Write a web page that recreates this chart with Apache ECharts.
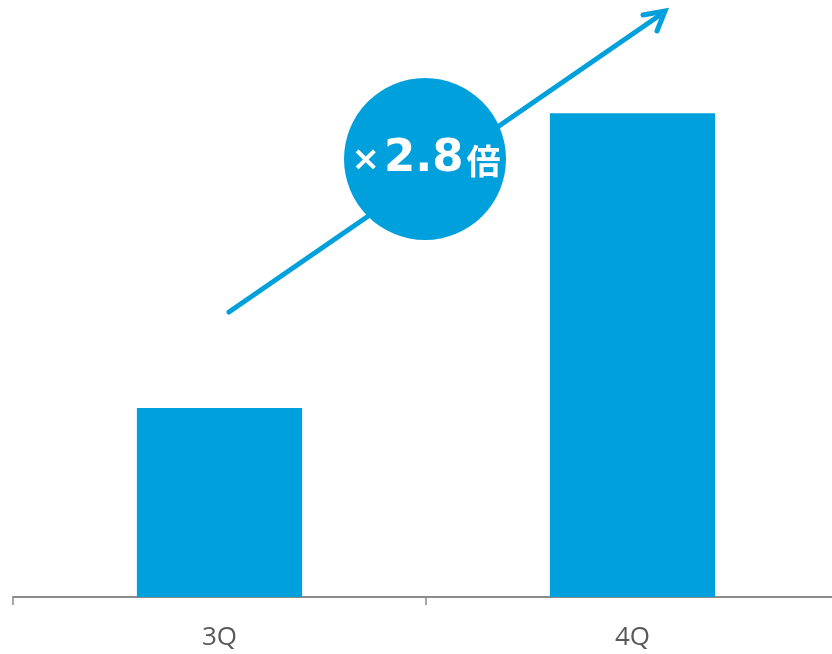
<!DOCTYPE html>
<html>
<head>
<meta charset="utf-8">
<style>
  html, body { margin: 0; padding: 0; background: #ffffff; overflow: hidden; }
  #chart { width: 839px; height: 654px; }
</style>
<script src="https://cdn.jsdelivr.net/npm/echarts@6/dist/echarts.min.js"></script>
</head>
<body>
<div id="chart"></div>
<script>
// Quarterly values (relative units)
const quarters = ['3Q', '4Q'];
const values = [100, 256];
const growthLabel = '2.8';

const BLUE = '#00A0DC';
const chart = echarts.init(document.getElementById('chart'));

chart.setOption({
  animation: false,
  grid: { left: 13, right: 0, top: 0, bottom: 57 },
  xAxis: {
    type: 'category',
    data: quarters,
    axisLine: { lineStyle: { color: '#8c8c8c', width: 2 } },
    axisTick: { show: true, length: 8, lineStyle: { color: '#8c8c8c', width: 1.5 } },
    axisLabel: {
      color: '#595959',
      fontSize: 26,
      fontFamily: 'Open Sans, Noto Sans, sans-serif',
      margin: 28
    }
  },
  yAxis: {
    type: 'value',
    min: 0,
    max: 316,
    show: false,
    splitLine: { show: false }
  },
  series: [{
    type: 'bar',
    data: values,
    barWidth: '40%',
    itemStyle: { color: BLUE }
  }],
  graphic: [
    {
      type: 'polyline',
      shape: { points: [[229, 312], [663, 13]] },
      style: { stroke: BLUE, lineWidth: 5, lineCap: 'round', fill: null },
      z: 10
    },
    {
      type: 'polyline',
      shape: { points: [[643, 15], [665, 11], [657, 31]] },
      style: { stroke: BLUE, lineWidth: 5, lineCap: 'round', lineJoin: 'miter', fill: null },
      z: 10
    },
    {
      type: 'circle',
      shape: { cx: 425, cy: 159, r: 81 },
      style: { fill: BLUE },
      z: 11
    },
    {
      type: 'text',
      x: 426,
      y: 159,
      z: 12,
      style: {
        text: '{x|×}{n|' + growthLabel + '}{k|倍}',
        align: 'center',
        verticalAlign: 'middle',
        rich: {
          x: { fill: '#ffffff', fontSize: 34, fontWeight: 'bold', fontFamily: 'DejaVu Sans, sans-serif', padding: [4, 4, 0, 0] },
          n: { fill: '#ffffff', fontSize: 45, fontWeight: 'bold', fontFamily: 'Verdana, DejaVu Sans, sans-serif' },
          k: { fill: '#ffffff', fontSize: 34, fontWeight: 'bold', fontFamily: 'Noto Sans CJK JP, sans-serif', padding: [4, 0, 0, 3] }
        }
      }
    }
  ]
});
</script>
</body>
</html>
